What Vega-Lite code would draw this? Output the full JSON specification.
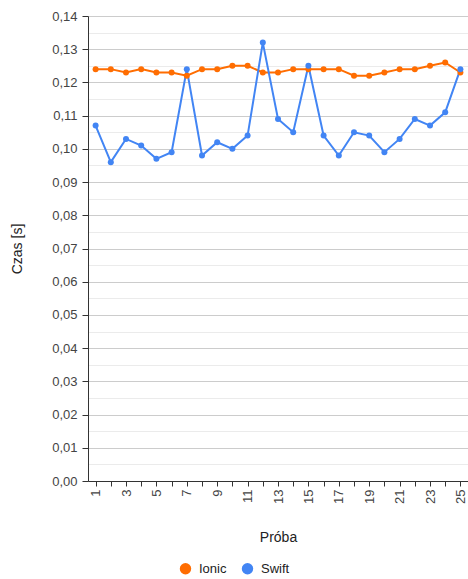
{
  "$schema": "https://vega.github.io/schema/vega-lite/v6.json",
  "width": 380,
  "height": 465,
  "autosize": {"type": "none"},
  "padding": {"left": 88, "top": 16, "right": 0, "bottom": 98},
  "background": "#ffffff",
  "config": {
    "view": {"stroke": null},
    "font": "Liberation Sans",
    "axis": {"labelFont": "Liberation Sans", "titleFont": "Liberation Sans", "labelColor": "#444444", "titleColor": "#222222", "titleFontWeight": "normal", "labelFontSize": 13, "titleFontSize": 14, "domainColor": "#333333", "tickColor": "#333333"},
    "legend": {"labelFont": "Liberation Sans", "labelFontSize": 13, "labelColor": "#222222"}
  },
  "data": {
    "values": [
      {"proba": 1, "seria": "Ionic", "czas": 0.124},
      {"proba": 2, "seria": "Ionic", "czas": 0.124},
      {"proba": 3, "seria": "Ionic", "czas": 0.123},
      {"proba": 4, "seria": "Ionic", "czas": 0.124},
      {"proba": 5, "seria": "Ionic", "czas": 0.123},
      {"proba": 6, "seria": "Ionic", "czas": 0.123},
      {"proba": 7, "seria": "Ionic", "czas": 0.122},
      {"proba": 8, "seria": "Ionic", "czas": 0.124},
      {"proba": 9, "seria": "Ionic", "czas": 0.124},
      {"proba": 10, "seria": "Ionic", "czas": 0.125},
      {"proba": 11, "seria": "Ionic", "czas": 0.125},
      {"proba": 12, "seria": "Ionic", "czas": 0.123},
      {"proba": 13, "seria": "Ionic", "czas": 0.123},
      {"proba": 14, "seria": "Ionic", "czas": 0.124},
      {"proba": 15, "seria": "Ionic", "czas": 0.124},
      {"proba": 16, "seria": "Ionic", "czas": 0.124},
      {"proba": 17, "seria": "Ionic", "czas": 0.124},
      {"proba": 18, "seria": "Ionic", "czas": 0.122},
      {"proba": 19, "seria": "Ionic", "czas": 0.122},
      {"proba": 20, "seria": "Ionic", "czas": 0.123},
      {"proba": 21, "seria": "Ionic", "czas": 0.124},
      {"proba": 22, "seria": "Ionic", "czas": 0.124},
      {"proba": 23, "seria": "Ionic", "czas": 0.125},
      {"proba": 24, "seria": "Ionic", "czas": 0.126},
      {"proba": 25, "seria": "Ionic", "czas": 0.123},
      {"proba": 1, "seria": "Swift", "czas": 0.107},
      {"proba": 2, "seria": "Swift", "czas": 0.096},
      {"proba": 3, "seria": "Swift", "czas": 0.103},
      {"proba": 4, "seria": "Swift", "czas": 0.101},
      {"proba": 5, "seria": "Swift", "czas": 0.097},
      {"proba": 6, "seria": "Swift", "czas": 0.099},
      {"proba": 7, "seria": "Swift", "czas": 0.124},
      {"proba": 8, "seria": "Swift", "czas": 0.098},
      {"proba": 9, "seria": "Swift", "czas": 0.102},
      {"proba": 10, "seria": "Swift", "czas": 0.100},
      {"proba": 11, "seria": "Swift", "czas": 0.104},
      {"proba": 12, "seria": "Swift", "czas": 0.132},
      {"proba": 13, "seria": "Swift", "czas": 0.109},
      {"proba": 14, "seria": "Swift", "czas": 0.105},
      {"proba": 15, "seria": "Swift", "czas": 0.125},
      {"proba": 16, "seria": "Swift", "czas": 0.104},
      {"proba": 17, "seria": "Swift", "czas": 0.098},
      {"proba": 18, "seria": "Swift", "czas": 0.105},
      {"proba": 19, "seria": "Swift", "czas": 0.104},
      {"proba": 20, "seria": "Swift", "czas": 0.099},
      {"proba": 21, "seria": "Swift", "czas": 0.103},
      {"proba": 22, "seria": "Swift", "czas": 0.109},
      {"proba": 23, "seria": "Swift", "czas": 0.107},
      {"proba": 24, "seria": "Swift", "czas": 0.111},
      {"proba": 25, "seria": "Swift", "czas": 0.124}
    ]
  },
  "mark": {"type": "line", "strokeWidth": 2, "point": {"filled": true, "size": 36}},
  "encoding": {
    "x": {
      "field": "proba",
      "type": "ordinal",
      "scale": {"paddingOuter": 0.5},
      "axis": {
        "title": "Próba",
        "labelAngle": -90,
        "labelExpr": "datum.value % 2 == 1 ? datum.label : ''",
        "tickSize": 5,
        "labelPadding": 3,
        "grid": false,
        "domainColor": "#333333",
        "titleY": 49,
        "titleBaseline": "top"
      }
    },
    "y": {
      "field": "czas",
      "type": "quantitative",
      "scale": {"domain": [0, 0.14], "nice": false, "zero": true},
      "axis": {
        "title": "Czas [s]",
        "values": [0, 0.005, 0.01, 0.015, 0.02, 0.025, 0.03, 0.035, 0.04, 0.045, 0.05, 0.055, 0.06, 0.065, 0.07, 0.075, 0.08, 0.085, 0.09, 0.095, 0.1, 0.105, 0.11, 0.115, 0.12, 0.125, 0.13, 0.135, 0.14],
        "labelExpr": "round(datum.value * 1000) % 10 == 0 ? replace(format(datum.value, '.2f'), '.', ',') : ''",
        "grid": true,
        "gridColor": {"condition": {"test": "round(datum.value * 1000) % 10 == 0", "value": "#cccccc"}, "value": "#ebebeb"},
        "tickSize": 6,
        "tickOpacity": {"condition": {"test": "round(datum.value * 1000) % 10 == 0", "value": 1}, "value": 0},
        "labelPadding": 5,
        "titleX": -71,
        "titleBaseline": "middle"
      }
    },
    "color": {
      "field": "seria",
      "type": "nominal",
      "scale": {"domain": ["Ionic", "Swift"], "range": ["#ff6d01", "#4285f4"]},
      "legend": {
        "title": null,
        "orient": "none",
        "direction": "horizontal",
        "legendX": 91,
        "legendY": 546,
        "symbolType": "circle",
        "symbolSize": 130,
        "symbolStrokeWidth": 0,
        "columnPadding": 14,
        "labelOffset": 7
      }
    }
  }
}
